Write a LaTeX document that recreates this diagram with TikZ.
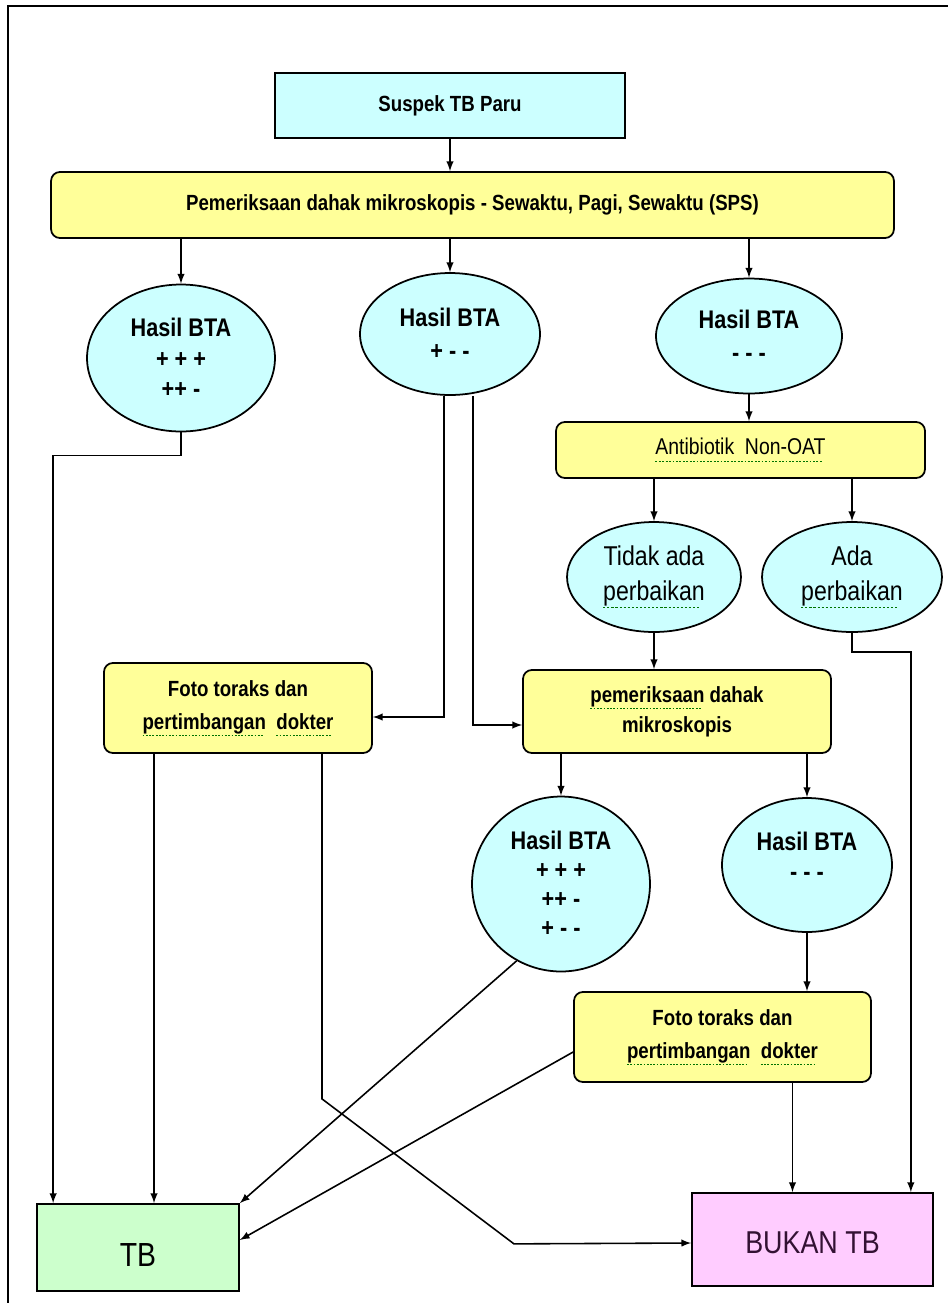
\documentclass[tikz,border=0pt]{standalone}
\usepackage{fontspec}
\setmainfont{Liberation Sans}[FakeStretch=0.85]
\usetikzlibrary{shapes.geometric}
\definecolor{birumuda}{HTML}{CCFFFF}
\definecolor{kuningmuda}{HTML}{FFFF99}
\definecolor{hijaumuda}{HTML}{CCFFCC}
\definecolor{merahmuda}{HTML}{FFCCFF}
\definecolor{ungutua}{HTML}{331133}
\newlength{\ejaanlen}
\newcommand{\ejaan}[1]{\settowidth{\ejaanlen}{#1}\rlap{\color{green!45!black}\raisebox{-0.55ex}{\hbox to\ejaanlen{\leaders\hbox{\rule{0.08em}{0.6pt}\kern0.07em}\hfill}}}#1}

\begin{document}
\begin{tikzpicture}[x=0.02cm, y=-0.02cm, >=latex,
  kotak/.style={draw, line width=1pt, inner sep=0pt, align=center},
  kuning/.style={kotak, rounded corners=5pt, fill=kuningmuda},
  elips/.style={ellipse, draw, line width=1pt, fill=birumuda, inner sep=0pt, align=center, font=\bfseries\fontsize{14.5}{17.5}\selectfont},
  panah/.style={->, line width=0.9pt}]
\useasboundingbox (0,0) rectangle (948,1303);
\draw[line width=1.2pt] (8,1303) -- (8,6) -- (948,6);

\node[kotak, fill=birumuda, minimum width=7cm, minimum height=1.3cm, font=\bfseries\fontsize{12.5}{15}\selectfont] (suspek) at (450,105.5) {Suspek TB Paru};
\node[kuning, minimum width=16.86cm, minimum height=1.32cm, font=\bfseries\fontsize{12.5}{15}\selectfont] (sps) at (472.5,205) {Pemeriksaan dahak mikroskopis - Sewaktu, Pagi, Sewaktu (SPS)};
\node[elips, minimum width=3.76cm, minimum height=2.94cm] (bta1) at (181,358) {Hasil BTA\\+ + +\\++ -};
\node[elips, minimum width=3.6cm, minimum height=2.44cm, font=\bfseries\fontsize{14.5}{19}\selectfont] (bta2) at (450,334) {Hasil BTA\\+ - -};
\node[elips, minimum width=3.72cm, minimum height=2.3cm, font=\bfseries\fontsize{14.5}{19}\selectfont] (bta3) at (749,336) {Hasil BTA\\- - -};
\node[kuning, minimum width=7.38cm, minimum height=1.12cm, font=\fontsize{13}{15}\selectfont] (nonoat) at (740.5,450) {\ejaan{Antibiotik~ Non-OAT}};
\node[elips, minimum width=3.48cm, minimum height=2.2cm, font=\fontsize{15.5}{20}\selectfont] (tidak) at (654,577) {Tidak ada\\\ejaan{perbaikan}};
\node[elips, minimum width=3.6cm, minimum height=2.2cm, font=\fontsize{15.5}{20}\selectfont] (ada) at (852,577) {Ada\\\ejaan{perbaikan}};
\node[kuning, minimum width=5.36cm, minimum height=1.8cm, font=\bfseries\fontsize{12.5}{19}\selectfont] (foto1) at (238,708) {Foto toraks dan\\\ejaan{pertimbangan}~~\ejaan{dokter}};
\node[kuning, minimum width=6.16cm, minimum height=1.66cm, font=\bfseries\fontsize{12.5}{17}\selectfont] (mikro) at (677,711.5) {\ejaan{pemeriksaan} dahak\\mikroskopis};
\node[elips, minimum width=3.56cm, minimum height=3.5cm, font=\bfseries\fontsize{14.5}{16.5}\selectfont] (bta4) at (561,884) {Hasil BTA\\+ + +\\++ -\\+ - -};
\node[elips, minimum width=3.4cm, minimum height=2.68cm, text depth=10pt] (bta5) at (807,865) {Hasil BTA\\- - -};
\node[kuning, minimum width=5.94cm, minimum height=1.8cm, font=\bfseries\fontsize{12.5}{19}\selectfont] (foto2) at (722.5,1037) {Foto toraks dan\\\ejaan{pertimbangan}~~\ejaan{dokter}};
\node[kotak, fill=hijaumuda, minimum width=4.04cm, minimum height=1.74cm, text height=22pt, font=\fontsize{19}{22}\selectfont] (tb) at (138,1247.5) {TB};
\node[kotak, fill=merahmuda, text=ungutua, minimum width=4.82cm, minimum height=1.86cm, text height=16pt, font=\fontsize{18}{21}\selectfont] (bukan) at (812.5,1239.5) {BUKAN TB};

\draw[panah] (suspek.south) -- (suspek.south |- sps.north);
\draw[panah] (bta1.north |- sps.south) -- (bta1.north);
\draw[panah] (bta2.north |- sps.south) -- (bta2.north);
\draw[panah] (bta3.north |- sps.south) -- (bta3.north);
\draw[panah] (bta1.south) -- ++(0,23) -| ([xshift=0.34cm]tb.north west);
\draw[panah] ([xshift=-0.12cm]bta2.south) |- ([yshift=-0.18cm]foto1.east);
\draw[panah] ([xshift=0.46cm]bta2.south) |- ([yshift=-0.27cm]mikro.west);
\draw[panah] (bta3.south) -- (bta3.south |- nonoat.north);
\draw[panah] (tidak.north |- nonoat.south) -- (tidak.north);
\draw[panah] (ada.north |- nonoat.south) -- (ada.north);
\draw[panah] (tidak.south) -- (tidak.south |- mikro.north);
\draw[panah] (ada.south) -- ++(0,19) -| ([xshift=-0.46cm]bukan.north east);
\draw[panah] (bta4.north |- mikro.south) -- (bta4.north);
\draw[panah] (bta5.north |- mikro.south) -- (bta5.north);
\draw[panah] (bta5.south) -- (bta5.south |- foto2.north);
\draw[panah] ([xshift=-1.68cm]foto1.south) -- ([xshift=-1.68cm]foto1.south |- tb.north);
\draw[panah] ([xshift=1.68cm]foto1.south) -- ++(0,345) -- ++(192,145) -- ([yshift=-0.07cm]bukan.west);
\draw[panah] (bta4.240) -- (tb.north east);
\draw[panah] ([yshift=-0.3cm]foto2.west) -- ([yshift=0.15cm]tb.east);
\draw[panah] ([xshift=1.4cm]foto2.south) -- ([xshift=1.4cm]foto2.south |- bukan.north);
\end{tikzpicture}
\end{document}
